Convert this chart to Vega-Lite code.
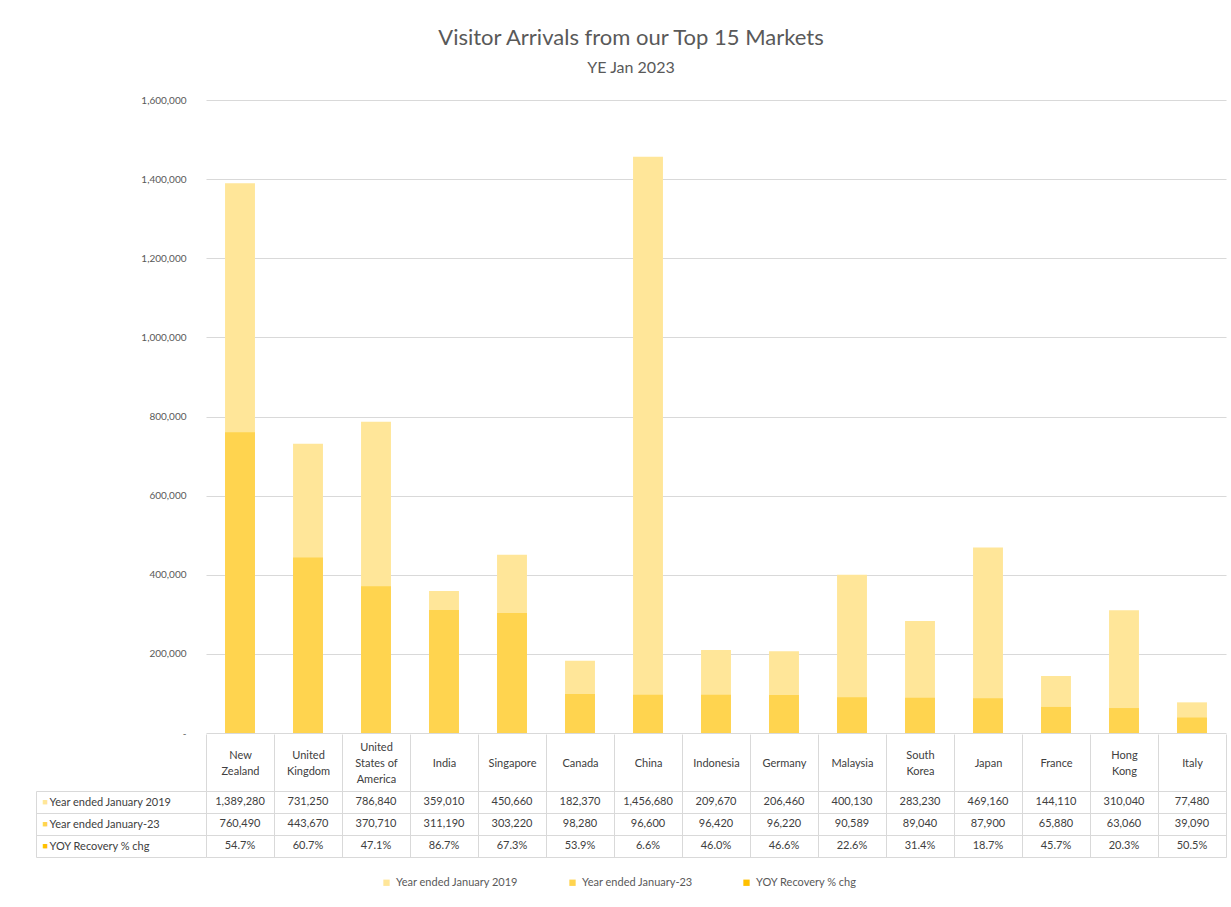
{
  "$schema": "https://vega.github.io/schema/vega-lite/v6.json",
  "background": "white",
  "padding": {"left": 35, "top": 27, "right": 6, "bottom": 5},
  "config": {"font": "Lato", "view": {"stroke": null}},
  "title": {
    "text": "Visitor Arrivals from our Top 15 Markets",
    "subtitle": "YE Jan 2023",
    "fontSize": 22, "fontWeight": "normal", "color": "#595959",
    "subtitleFontSize": 16, "subtitleColor": "#595959", "subtitlePadding": 10,
    "offset": 18, "anchor": "middle"
  },
  "data": {"values": [
    {"country": "New Zealand", "series": "Year ended January 2019", "value": 1389280},
    {"country": "United Kingdom", "series": "Year ended January 2019", "value": 731250},
    {"country": "United States of America", "series": "Year ended January 2019", "value": 786840},
    {"country": "India", "series": "Year ended January 2019", "value": 359010},
    {"country": "Singapore", "series": "Year ended January 2019", "value": 450660},
    {"country": "Canada", "series": "Year ended January 2019", "value": 182370},
    {"country": "China", "series": "Year ended January 2019", "value": 1456680},
    {"country": "Indonesia", "series": "Year ended January 2019", "value": 209670},
    {"country": "Germany", "series": "Year ended January 2019", "value": 206460},
    {"country": "Malaysia", "series": "Year ended January 2019", "value": 400130},
    {"country": "South Korea", "series": "Year ended January 2019", "value": 283230},
    {"country": "Japan", "series": "Year ended January 2019", "value": 469160},
    {"country": "France", "series": "Year ended January 2019", "value": 144110},
    {"country": "Hong Kong", "series": "Year ended January 2019", "value": 310040},
    {"country": "Italy", "series": "Year ended January 2019", "value": 77480},
    {"country": "New Zealand", "series": "Year ended January-23", "value": 760490},
    {"country": "United Kingdom", "series": "Year ended January-23", "value": 443670},
    {"country": "United States of America", "series": "Year ended January-23", "value": 370710},
    {"country": "India", "series": "Year ended January-23", "value": 311190},
    {"country": "Singapore", "series": "Year ended January-23", "value": 303220},
    {"country": "Canada", "series": "Year ended January-23", "value": 98280},
    {"country": "China", "series": "Year ended January-23", "value": 96600},
    {"country": "Indonesia", "series": "Year ended January-23", "value": 96420},
    {"country": "Germany", "series": "Year ended January-23", "value": 96220},
    {"country": "Malaysia", "series": "Year ended January-23", "value": 90589},
    {"country": "South Korea", "series": "Year ended January-23", "value": 89040},
    {"country": "Japan", "series": "Year ended January-23", "value": 87900},
    {"country": "France", "series": "Year ended January-23", "value": 65880},
    {"country": "Hong Kong", "series": "Year ended January-23", "value": 63060},
    {"country": "Italy", "series": "Year ended January-23", "value": 39090},
    {"country": "New Zealand", "series": "YOY Recovery % chg", "value": 0.547},
    {"country": "United Kingdom", "series": "YOY Recovery % chg", "value": 0.607},
    {"country": "United States of America", "series": "YOY Recovery % chg", "value": 0.471},
    {"country": "India", "series": "YOY Recovery % chg", "value": 0.867},
    {"country": "Singapore", "series": "YOY Recovery % chg", "value": 0.673},
    {"country": "Canada", "series": "YOY Recovery % chg", "value": 0.539},
    {"country": "China", "series": "YOY Recovery % chg", "value": 0.066},
    {"country": "Indonesia", "series": "YOY Recovery % chg", "value": 0.46},
    {"country": "Germany", "series": "YOY Recovery % chg", "value": 0.466},
    {"country": "Malaysia", "series": "YOY Recovery % chg", "value": 0.226},
    {"country": "South Korea", "series": "YOY Recovery % chg", "value": 0.314},
    {"country": "Japan", "series": "YOY Recovery % chg", "value": 0.187},
    {"country": "France", "series": "YOY Recovery % chg", "value": 0.457},
    {"country": "Hong Kong", "series": "YOY Recovery % chg", "value": 0.203},
    {"country": "Italy", "series": "YOY Recovery % chg", "value": 0.505}
  ]},
  "spacing": -5,
  "vconcat": [
    {
      "width": 1020,
      "height": 633,
      "mark": {"type": "bar", "width": {"band": 0.44}},
      "encoding": {
        "x": {"field": "country", "type": "nominal", "sort": null,
              "scale": {"paddingInner": 0, "paddingOuter": 0}, "axis": null},
        "y": {"field": "value", "type": "quantitative", "stack": null,
              "scale": {"domain": [0, 1600000], "nice": false},
              "axis": {"title": null, "tickCount": 8, "format": ",d",
                       "labelExpr": "datum.value === 0 ? '-' : datum.label",
                       "domain": false, "ticks": false, "labelPadding": 20, "minExtent": 170,
                       "gridColor": "#D9D9D9", "labelColor": "#595959", "labelFontSize": 10}},
        "color": {"field": "series", "type": "nominal",
                  "scale": {"domain": ["Year ended January 2019", "Year ended January-23", "YOY Recovery % chg"],
                            "range": ["#FFE699", "#FFD44F", "#FFC000"]},
                  "legend": {"orient": "none", "legendX": 175, "legendY": 777, "direction": "horizontal", "title": null,
                             "symbolType": "square", "symbolSize": 40, "labelFontSize": 11,
                             "labelColor": "#595959", "columnPadding": 48}}
      }
    },
    {
      "width": 1020,
      "height": 66,
      "layer": [
        {
          "mark": {"type": "text", "fontSize": 11, "color": "#404040"},
          "encoding": {
            "x": {"field": "country", "type": "nominal", "sort": null,
                  "scale": {"paddingInner": 0, "paddingOuter": 0},
                  "axis": {"orient": "top", "title": null, "tickBand": "extent", "tickSize": 57,
                           "tickColor": "#D9D9D9", "grid": true, "gridColor": "#D9D9D9", "gridOpacity": 1,
                           "domain": false, "labelAngle": 0, "labelPadding": -13, "labelBaseline": "middle",
                           "labelOverlap": false, "labelFontSize": 11, "labelColor": "#404040", "labelLineHeight": 8,
                           "labelExpr": "datum.label === 'United States of America' ? ['United', '\u200b', 'States of', '\u200b', 'America'] : (indexof(datum.label, ' ') >= 0 ? ['\u200b', split(datum.label, ' ')[0], '\u200b', split(datum.label, ' ')[1]] : ['\u200b', '\u200b', datum.label])"}},
            "y": {"field": "series", "type": "nominal",
                  "sort": ["Year ended January 2019", "Year ended January-23", "YOY Recovery % chg"],
                  "scale": {"paddingInner": 0, "paddingOuter": 0},
                  "axis": {"orient": "left", "title": null, "tickBand": "extent", "tickSize": 170,
                           "tickColor": "#D9D9D9", "grid": true, "gridColor": "#D9D9D9", "gridOpacity": 1,
                           "domain": false, "labelAlign": "left", "labelPadding": -13, "minExtent": 170,
                           "labelFontSize": 11, "labelColor": "#404040"}},
            "text": {"condition": {"test": "datum.series === 'YOY Recovery % chg'", "field": "value", "type": "quantitative", "format": ".1%"},
                     "field": "value", "type": "quantitative", "format": ","}
          }
        },
        {
          "mark": {"type": "text", "text": ""},
          "encoding": {
            "y": {"field": "series", "type": "nominal",
                  "sort": ["Year ended January 2019", "Year ended January-23", "YOY Recovery % chg"],
                  "axis": {"orient": "left", "title": null, "offset": 170, "ticks": false, "grid": false,
                           "domain": true, "domainColor": "#D9D9D9", "labelAlign": "left", "labelPadding": -6,
                           "minExtent": 0, "labelFontSize": 9, "labelExpr": "'■'",
                           "labelColor": {"condition": [
                              {"test": "datum.value === 'Year ended January 2019'", "value": "#FFE699"},
                              {"test": "datum.value === 'Year ended January-23'", "value": "#FFD44F"}],
                             "value": "#FFC000"}}}
          }
        }
      ],
      "resolve": {"axis": {"y": "independent"}}
    }
  ]
}
